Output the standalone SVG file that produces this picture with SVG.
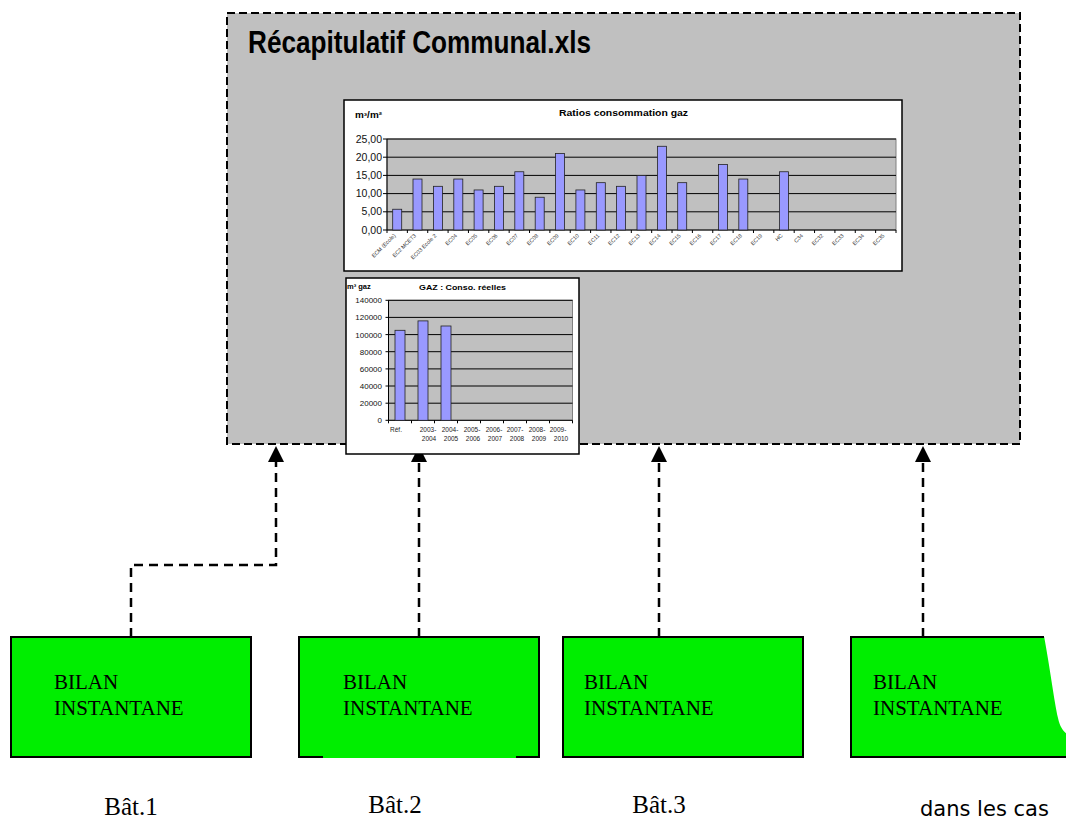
<svg xmlns="http://www.w3.org/2000/svg" width="1066" height="821" viewBox="0 0 1066 821">
<defs>
<style>
.frame{fill:#c0c0c0;stroke:#000;stroke-width:2;stroke-dasharray:8 4}
.conn{fill:none;stroke:#000;stroke-width:2.5;stroke-dasharray:9 6}
.box{fill:#00ee00;stroke:#000;stroke-width:2}
.boxtxt{font-family:"Liberation Serif","Times New Roman",serif;font-size:21px;fill:#000}
.bat{font-family:"Liberation Serif","Times New Roman",serif;font-size:25px;fill:#000}
.panel{fill:#fff;stroke:#000;stroke-width:1.5}
.plot{fill:#c0c0c0;stroke:#808080;stroke-width:1}
.grid{fill:none;stroke:#000;stroke-width:1}
.bar{fill:#9999ff;stroke:#222;stroke-width:0.8}
.sans{font-family:"Liberation Sans",Arial,sans-serif;fill:#000}
.b{font-weight:bold}
.ytl{font-family:"Liberation Sans",Arial,sans-serif;font-size:10.5px;text-anchor:end;fill:#111}
.ytl2{font-family:"Liberation Sans",Arial,sans-serif;font-size:8px;text-anchor:end;fill:#111}
.xtl{font-family:"Liberation Sans",Arial,sans-serif;font-size:5.5px;text-anchor:end;fill:#333}
.xtl2{font-family:"Liberation Sans",Arial,sans-serif;font-size:6.5px;text-anchor:middle;fill:#222}
</style>
<marker id="arr" viewBox="0 0 16 16" refX="0" refY="8" markerWidth="16" markerHeight="16" markerUnits="userSpaceOnUse" orient="auto">
<path d="M0,0 L16,8 L0,16 Z" fill="#000"/>
</marker>
</defs>

<g id="recap">
<rect class="frame" x="227" y="13" width="793" height="431"/>
<text class="sans b" x="248" y="53" font-size="31" textLength="343" lengthAdjust="spacingAndGlyphs">Récapitulatif Communal.xls</text>
</g>

<g id="connectors">
<path class="conn" d="M131,637 V565 H276 V462" marker-end="url(#arr)"/>
<path class="conn" d="M419,637 V462" marker-end="url(#arr)"/>
<path class="conn" d="M659,637 V462" marker-end="url(#arr)"/>
<path class="conn" d="M923,637 V462" marker-end="url(#arr)"/>
</g>

<g id="chart-ratios">
<rect class="panel" x="344" y="100" width="558" height="171"/>
<text class="sans b" x="355" y="118" font-size="8.5" textLength="27" lengthAdjust="spacingAndGlyphs">m³/m²</text>
<text class="sans b" x="559" y="116" font-size="9.5" textLength="129" lengthAdjust="spacingAndGlyphs">Ratios consommation gaz</text>
<rect class="plot" x="387" y="139" width="509" height="91"/>
<path class="grid" d="M387,139 H896 M387,157.2 H896 M387,175.4 H896 M387,193.6 H896 M387,211.8 H896 M383,230 H896 M387,139 V230 M383,139 H387 M383,157.2 H387 M383,175.4 H387 M383,193.6 H387 M383,211.8 H387"/>
<path class="grid" d="M387,230 v3 M407.36,230 v3 M427.72,230 v3 M448.08,230 v3 M468.44,230 v3 M488.8,230 v3 M509.16,230 v3 M529.52,230 v3 M549.88,230 v3 M570.24,230 v3 M590.6,230 v3 M610.96,230 v3 M631.32,230 v3 M651.68,230 v3 M672.04,230 v3 M692.4,230 v3 M712.76,230 v3 M733.12,230 v3 M753.48,230 v3 M773.84,230 v3 M794.2,230 v3 M814.56,230 v3 M834.92,230 v3 M855.28,230 v3 M875.64,230 v3 M896,230 v3"/>
<g>
<rect class="bar" x="392.7" y="209.25" width="9" height="20.75"/>
<rect class="bar" x="413" y="179.04" width="9" height="50.96"/>
<rect class="bar" x="433.4" y="186.32" width="9" height="43.68"/>
<rect class="bar" x="453.8" y="179.04" width="9" height="50.96"/>
<rect class="bar" x="474.1" y="189.96" width="9" height="40.04"/>
<rect class="bar" x="494.5" y="186.32" width="9" height="43.68"/>
<rect class="bar" x="514.8" y="171.76" width="9" height="58.24"/>
<rect class="bar" x="535.2" y="197.24" width="9" height="32.76"/>
<rect class="bar" x="555.6" y="153.56" width="9" height="76.44"/>
<rect class="bar" x="575.9" y="189.96" width="9" height="40.04"/>
<rect class="bar" x="596.3" y="182.68" width="9" height="47.32"/>
<rect class="bar" x="616.6" y="186.32" width="9" height="43.68"/>
<rect class="bar" x="637" y="175.4" width="9" height="54.6"/>
<rect class="bar" x="657.4" y="146.28" width="9" height="83.72"/>
<rect class="bar" x="677.7" y="182.68" width="9" height="47.32"/>
<rect class="bar" x="718.4" y="164.48" width="9" height="65.52"/>
<rect class="bar" x="738.8" y="179.04" width="9" height="50.96"/>
<rect class="bar" x="779.5" y="171.76" width="9" height="58.24"/>
</g>
<text class="ytl" x="382" y="142.5">25,00</text>
<text class="ytl" x="382" y="160.7">20,00</text>
<text class="ytl" x="382" y="178.9">15,00</text>
<text class="ytl" x="382" y="197.1">10,00</text>
<text class="ytl" x="382" y="215.3">5,00</text>
<text class="ytl" x="382" y="233.5">0,00</text>
<g>
<text class="xtl" transform="translate(396,236) rotate(-45)">ECM (Ecole)</text>
<text class="xtl" transform="translate(416.5,236) rotate(-45)">EC2 MCET3</text>
<text class="xtl" transform="translate(436.9,236) rotate(-45)">EC03 Ecole 2</text>
<text class="xtl" transform="translate(457.3,236) rotate(-45)">EC04</text>
<text class="xtl" transform="translate(477.6,236) rotate(-45)">EC05</text>
<text class="xtl" transform="translate(498,236) rotate(-45)">EC06</text>
<text class="xtl" transform="translate(518.3,236) rotate(-45)">EC07</text>
<text class="xtl" transform="translate(538.7,236) rotate(-45)">EC08</text>
<text class="xtl" transform="translate(559.1,236) rotate(-45)">EC09</text>
<text class="xtl" transform="translate(579.4,236) rotate(-45)">EC10</text>
<text class="xtl" transform="translate(599.8,236) rotate(-45)">EC11</text>
<text class="xtl" transform="translate(620.1,236) rotate(-45)">EC12</text>
<text class="xtl" transform="translate(640.5,236) rotate(-45)">EC13</text>
<text class="xtl" transform="translate(660.9,236) rotate(-45)">EC14</text>
<text class="xtl" transform="translate(681.2,236) rotate(-45)">EC15</text>
<text class="xtl" transform="translate(701.6,236) rotate(-45)">EC16</text>
<text class="xtl" transform="translate(721.9,236) rotate(-45)">EC17</text>
<text class="xtl" transform="translate(742.3,236) rotate(-45)">EC18</text>
<text class="xtl" transform="translate(762.7,236) rotate(-45)">EC19</text>
<text class="xtl" transform="translate(783,236) rotate(-45)">HC</text>
<text class="xtl" transform="translate(803.4,236) rotate(-45)">C34</text>
<text class="xtl" transform="translate(823.7,236) rotate(-45)">EC32</text>
<text class="xtl" transform="translate(844.1,236) rotate(-45)">EC33</text>
<text class="xtl" transform="translate(864.5,236) rotate(-45)">EC34</text>
<text class="xtl" transform="translate(884.8,236) rotate(-45)">EC35</text>
</g>
</g>

<g id="chart-conso">
<rect class="panel" x="346" y="278" width="233" height="176"/>
<text class="sans b" x="347" y="289" font-size="7.5">m³ gaz</text>
<text class="sans b" x="419" y="290" font-size="8" textLength="87" lengthAdjust="spacingAndGlyphs">GAZ : Conso. réelles</text>
<rect class="plot" x="388.5" y="300.3" width="184" height="120"/>
<path class="grid" d="M388.5,300.3 H572.5 M388.5,317.4 H572.5 M388.5,334.6 H572.5 M388.5,351.7 H572.5 M388.5,368.9 H572.5 M388.5,386 H572.5 M388.5,403.2 H572.5 M385.5,420.3 H572.5 M388.5,300.3 V420.3 M385.5,300.3 H388.5 M385.5,317.4 H388.5 M385.5,334.6 H388.5 M385.5,351.7 H388.5 M385.5,368.9 H388.5 M385.5,386 H388.5 M385.5,403.2 H388.5"/>
<path class="grid" d="M388.5,420.3 v3 M411.5,420.3 v3 M434.5,420.3 v3 M457.5,420.3 v3 M480.5,420.3 v3 M503.5,420.3 v3 M526.5,420.3 v3 M549.5,420.3 v3 M572.5,420.3 v3"/>
<rect class="bar" x="395" y="330.3" width="10" height="90"/>
<rect class="bar" x="418" y="320.9" width="10" height="99.4"/>
<rect class="bar" x="441" y="326" width="10" height="94.3"/>
<text class="ytl2" x="382" y="303.3">140000</text>
<text class="ytl2" x="382" y="320.4">120000</text>
<text class="ytl2" x="382" y="337.6">100000</text>
<text class="ytl2" x="382" y="354.7">80000</text>
<text class="ytl2" x="382" y="371.9">60000</text>
<text class="ytl2" x="382" y="389">40000</text>
<text class="ytl2" x="382" y="406.2">20000</text>
<text class="ytl2" x="382" y="423.3">0</text>
<text class="xtl2" x="396" y="432">Réf.</text>
<text class="xtl2" x="428" y="432">2003-</text>
<text class="xtl2" x="450" y="432">2004-</text>
<text class="xtl2" x="472" y="432">2005-</text>
<text class="xtl2" x="494" y="432">2006-</text>
<text class="xtl2" x="515" y="432">2007-</text>
<text class="xtl2" x="537" y="432">2008-</text>
<text class="xtl2" x="558" y="432">2009-</text>
<text class="xtl2" x="429" y="441">2004</text>
<text class="xtl2" x="451" y="441">2005</text>
<text class="xtl2" x="473" y="441">2006</text>
<text class="xtl2" x="495" y="441">2007</text>
<text class="xtl2" x="517" y="441">2008</text>
<text class="xtl2" x="539" y="441">2009</text>
<text class="xtl2" x="561" y="441">2010</text>
</g>

<g id="bat1">
<rect class="box" x="11" y="637" width="240" height="120"/>
<text class="boxtxt" x="54" y="689">BILAN</text>
<text class="boxtxt" x="54" y="715">INSTANTANE</text>
<text class="bat" x="131" y="815" text-anchor="middle">Bât.1</text>
</g>

<g id="bat2">
<rect x="299" y="637" width="240" height="121" fill="#00ee00"/>
<path d="M323,757 H299 V637 H539 V757 H516" fill="none" stroke="#000" stroke-width="2"/>
<text class="boxtxt" x="343" y="689">BILAN</text>
<text class="boxtxt" x="343" y="715">INSTANTANE</text>
<text class="bat" x="395" y="813" text-anchor="middle">Bât.2</text>
</g>

<g id="bat3">
<rect class="box" x="563" y="637" width="240" height="120"/>
<text class="boxtxt" x="584" y="689">BILAN</text>
<text class="boxtxt" x="584" y="715">INSTANTANE</text>
<text class="bat" x="659" y="813" text-anchor="middle">Bât.3</text>
</g>

<g id="bat4">
<rect x="851" y="637" width="216" height="120" fill="#00ee00"/>
<path d="M1044,636 C1050,668 1054,700 1058,718 C1060,727 1063,731 1067,734 L1067,636 Z" fill="#fff"/>
<path d="M1044,637 H851 V757 H1067" fill="none" stroke="#000" stroke-width="2"/>
<text class="boxtxt" x="873" y="689">BILAN</text>
<text class="boxtxt" x="873" y="715">INSTANTANE</text>
</g>

<text x="920" y="816" font-family="'Comic Sans MS','DejaVu Sans',sans-serif" font-size="21" fill="#000">dans les cas</text>
</svg>
